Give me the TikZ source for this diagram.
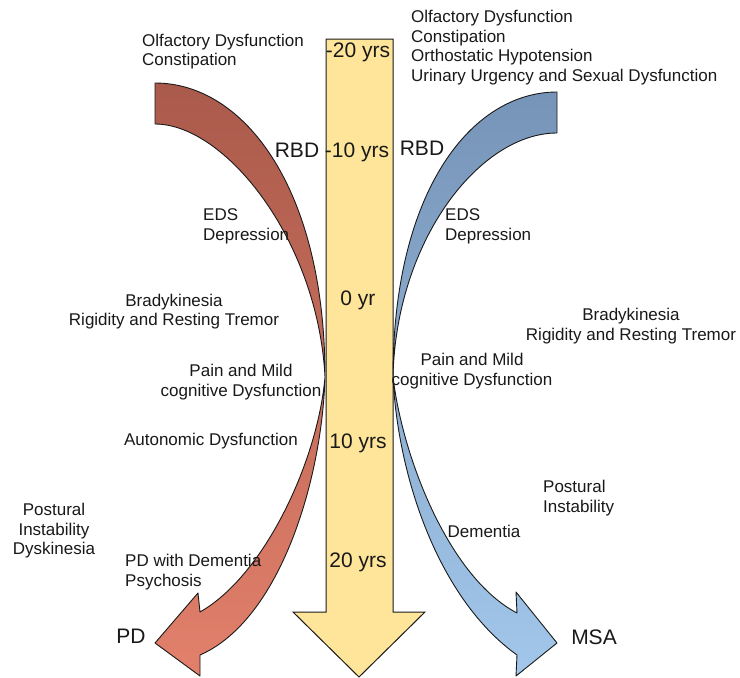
\documentclass[tikz,border=0pt]{standalone}
\usepackage{fontspec}
\setmainfont{Liberation Sans}
\definecolor{yel}{HTML}{FFE59A}
\definecolor{redtop}{HTML}{AA5A4B}
\definecolor{redbot}{HTML}{E2806B}
\definecolor{bluetop}{HTML}{7694B8}
\definecolor{bluebot}{HTML}{A2C7EA}
\definecolor{edge}{HTML}{1A1A1A}
\begin{document}
\begin{tikzpicture}[x=1pt,y=-1pt,
  lbl/.style={font=\fontsize{17}{19.5}\selectfont, inner sep=0pt, text=black!90},
  big/.style={font=\fontsize{21}{24}\selectfont, inner sep=0pt, text=black!90},
  band/.style={draw=edge, line width=0.9pt, line join=round}]
\useasboundingbox[fill=white] (0,0) rectangle (740,678);
% central time arrow
\path[fill=yel, draw=edge, line width=1pt, line join=miter]
  (326,39) -- (393,39) -- (393,612) -- (425,612) -- (359,677) -- (293,612) -- (326,612) -- cycle;
% PD arrow
\shade[band, top color=redtop, bottom color=redbot]
  (155,83) .. controls (245,83) and (325,190) .. (325,377)
  .. controls (322,480) and (280,620) .. (200,655)
  -- (200,676) -- (155,643) -- (198,593) -- (200,612)
  .. controls (265,575) and (318,460) .. (325,377)
  .. controls (318,240) and (225,124) .. (155,124) -- cycle;
% MSA arrow
\shade[band, top color=bluetop, bottom color=bluebot]
  (557,92) .. controls (472,92) and (393,190) .. (393,377)
  .. controls (398,480) and (440,600) .. (517,655)
  -- (516,676) -- (557,643) -- (516,592) -- (517,613)
  .. controls (450,578) and (403,460) .. (393,377)
  .. controls (396,240) and (480,133) .. (557,133) -- cycle;
% labels
\node[lbl, anchor=west, align=left] (tl) at (142,51.5) {Olfactory Dysfunction\\Constipation};
\node[lbl, anchor=west, align=left] (tr) at (411,47.5) {Olfactory Dysfunction\\Constipation\\Orthostatic Hypotension\\Urinary Urgency and Sexual Dysfunction};
\node[big] (yrm20) at (358,52) {-20 yrs};
\node[big] (rbdl) at (297,150) {RBD};
\node[big] (yrm10) at (357,152) {-10 yrs};
\node[big] (rbdr) at (422,148) {RBD};
\node[lbl, anchor=west, align=left] (edsl) at (203,226.5) {EDS\\Depression};
\node[lbl, anchor=west, align=left] (edsr) at (445,226.5) {EDS\\Depression};
\node[big] (yr0) at (358,300) {0 yr};
\node[lbl, align=center] (bradyl) at (174,311.5) {Bradykinesia\\Rigidity and Resting Tremor};
\node[lbl, align=center] (bradyr) at (631,326) {Bradykinesia\\Rigidity and Resting Tremor};
\node[lbl, align=center] (painl) at (241,382) {Pain and Mild\\cognitive Dysfunction};
\node[lbl, align=center] (painr) at (472,371) {Pain and Mild\\cognitive Dysfunction};
\node[lbl] (auto) at (211,441) {Autonomic Dysfunction};
\node[big] (yr10) at (358,443) {10 yrs};
\node[lbl, align=center] (postl) at (54,531) {Postural\\Instability\\Dyskinesia};
\node[lbl, anchor=west, align=left] (pdd) at (125,572) {PD with Dementia\\Psychosis};
\node[big] (yr20) at (358,562) {20 yrs};
\node[big] (pd) at (131,636) {PD};
\node[lbl, anchor=west, align=left] (postr) at (543,498) {Postural\\Instability};
\node[lbl] (dem) at (484,531) {Dementia};
\node[big] (msa) at (594,637) {MSA};
\end{tikzpicture}
\end{document}
